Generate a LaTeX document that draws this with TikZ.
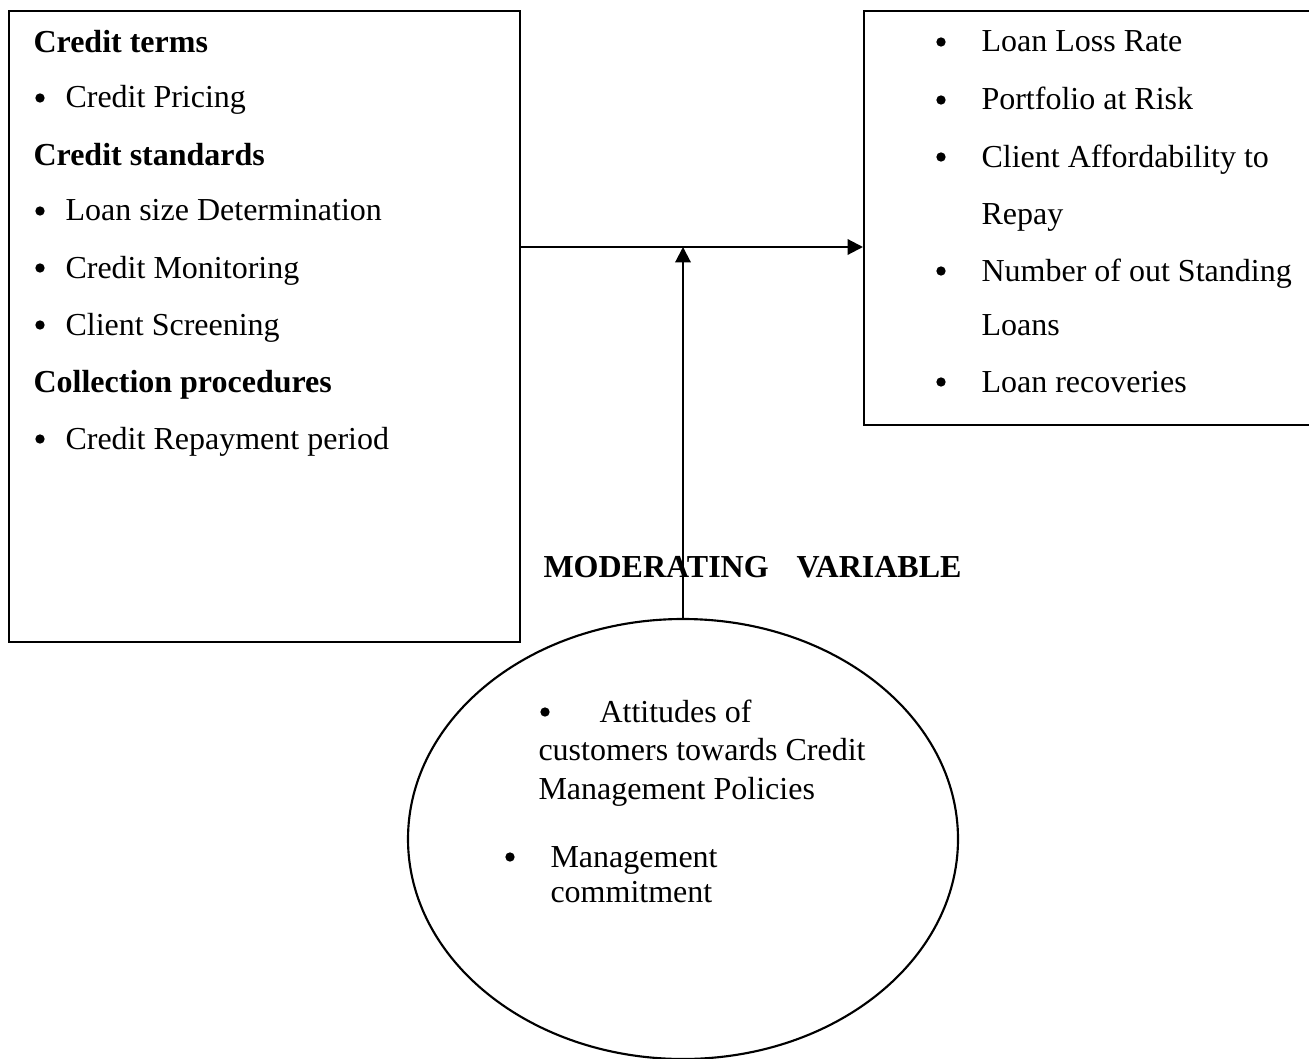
\documentclass[tikz,border=0pt]{standalone}
\usepackage{fontspec}
\setmainfont{Liberation Serif}
\usetikzlibrary{shapes.geometric,arrows.meta}

\tikzset{
  box/.style={draw, line width=0.9pt, rectangle, inner sep=0pt, anchor=north west},
  oval/.style={draw, line width=0.8pt, ellipse, inner sep=0pt},
  txt/.style={anchor=base west, inner sep=0pt, font=\fontsize{12}{14}\selectfont},
  head/.style={txt, font=\fontsize{12}{14}\selectfont\bfseries},
  dot/.style={circle, fill, inner sep=0pt, minimum size=3.5pt},
  link/.style={line width=0.8pt, -{Triangle[length=5.8pt,width=5.8pt]}}
}

\begin{document}
\begin{tikzpicture}[x=0.375pt,y=-0.375pt]

	\useasboundingbox (0,0) rectangle (1309,1059);

	% boxes
	\node[box, minimum width=191.6pt, minimum height=236.6pt] (indep) at (8,10) {};
	\node[box, minimum width=172pt, minimum height=155.2pt] (dep) at (863,10) {};
	\node[oval, minimum width=206.25pt, minimum height=165pt] (moder) at (683,839) {};

	% left box
	\node[head] (h1) at (33,53) {Credit terms};
	\node[head] (h2) at (33,165) {Credit standards};
	\node[head] (h3) at (33,392) {Collection procedures};
	\foreach \y/\t [count=\i] in {108/Credit Pricing, 221/Loan size Determination,
	    278/Credit Monitoring, 335/Client Screening, 449/Credit Repayment period}{
		\node[dot] (lb\i) at (40,\y-10) {};
		\node[txt] (lt\i) at (65,\y) {\t};
	}

	% right box
	\foreach \y [count=\i] in {52,110,167,281,392}{
		\node[dot] (rb\i) at (941,\y-10) {};
	}
	\node[txt] (rt1) at (981,52) {Loan Loss Rate};
	\node[txt] (rt2) at (981,110) {Portfolio at Risk};
	\node[txt] (rt3) at (981,167) {Client Affordability to};
	\node[txt] (rt4) at (981,224) {Repay};
	\node[txt] (rt5) at (981,281) {Number of out Standing};
	\node[txt] (rt6) at (981,335) {Loans};
	\node[txt] (rt7) at (981,392) {Loan recoveries};

	% moderating variable
	\node[head] (mlabel) at (543,577) {MODERATING\hspace{10.5pt}VARIABLE};
	\node[dot] (mb1) at (545,712) {};
	\node[txt] (mt1) at (599,722) {Attitudes of};
	\node[txt] (mt2) at (538,760) {customers towards Credit};
	\node[txt] (mt3) at (538,799) {Management Policies};
	\node[dot] (mb2) at (510,857) {};
	\node[txt] (mt4) at (550,867) {Management};
	\node[txt] (mt5) at (550,902) {commitment};

	% connectors
	\coordinate (join) at (683,247);
	\draw[link] (indep.east |- join) -- (dep.west |- join);
	\draw[link] (moder.north) -- (join);

\end{tikzpicture}
\end{document}
